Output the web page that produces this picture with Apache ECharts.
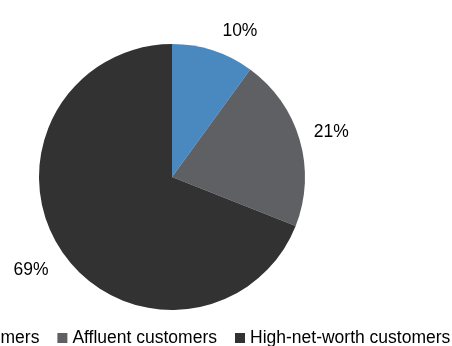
<!DOCTYPE html>
<html>
<head>
<meta charset="utf-8">
<script src="https://cdn.jsdelivr.net/npm/echarts@6/dist/echarts.min.js"></script>
<style>
  html, body { margin: 0; padding: 0; background: #fff; }
  #chart { width: 452px; height: 346px; }
</style>
</head>
<body>
<div id="chart"></div>
<script>
// Customer mix by segment (share of total, %)
const categories = ['Mass customers', 'Affluent customers', 'High-net-worth customers'];
const shares = [10, 21, 69];
const colors = ['#4a88c0', '#5f6064', '#323232'];

const FONT = '"Liberation Sans", Arial, sans-serif';
const FONT_SIZE = 17.5;
const center = [172, 177];
const radius = 133;

const sliceData = categories.map((name, i) => ({ name, value: shares[i] }));

// Small nudges for the percentage labels, by slice
const labelNudge = [[16, 14], [-2, 2], [-2, -1]];

// Labels sit on a transparent ring larger than the pie, so the
// "inside" position lands them just outside the visible pie.
const labelData = categories.map((name, i) => ({
  name,
  value: shares[i],
  label: { offset: labelNudge[i] }
}));

const chart = echarts.init(document.getElementById('chart'), null, { renderer: 'canvas' });
chart.setOption({
  animation: false,
  color: colors,
  legend: {
    data: categories,
    left: -108,
    top: 324,
    width: 700,
    icon: 'rect',
    itemWidth: 10,
    itemHeight: 10,
    itemGap: 18,
    textStyle: { fontFamily: FONT, fontSize: FONT_SIZE, color: '#000' }
  },
  series: [
    {
      type: 'pie',
      center: center,
      radius: [0, radius],
      startAngle: 90,
      clockwise: true,
      silent: true,
      label: { show: false },
      labelLine: { show: false },
      itemStyle: { borderWidth: 0 },
      data: sliceData
    },
    {
      type: 'pie',
      center: center,
      radius: [0, radius * 2 + 64],
      startAngle: 90,
      clockwise: true,
      silent: true,
      itemStyle: { color: 'rgba(0,0,0,0)', borderWidth: 0 },
      label: {
        show: true,
        position: 'inside',
        formatter: p => p.value + '%',
        fontFamily: FONT,
        fontSize: FONT_SIZE,
        color: '#000'
      },
      labelLine: { show: false },
      data: labelData
    }
  ]
});
</script>
</body>
</html>
